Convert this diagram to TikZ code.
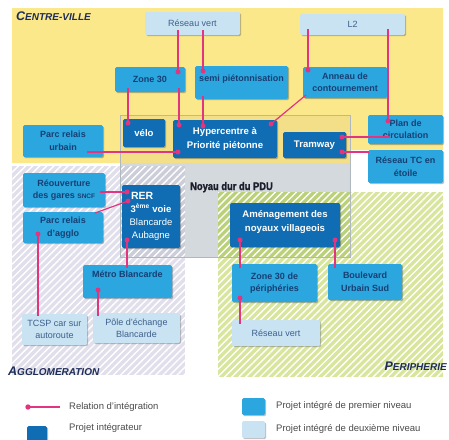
\documentclass[tikz,border=0pt]{standalone}
\usepackage{fontspec}
\setmainfont{Liberation Sans}
\newfontfamily\noyaufont[FakeStretch=0.85,FakeBold=1.5,UprightFont=* Bold]{Liberation Sans}
\usetikzlibrary{shadows,patterns.meta}
\definecolor{yel}{HTML}{FBE88A}
\definecolor{lav}{HTML}{E1DFEB}
\definecolor{grn}{HTML}{D8E59C}
\definecolor{nucY}{HTML}{F3DF88}
\definecolor{nucW}{HTML}{D3D9DD}
\definecolor{nucL}{HTML}{CBCED9}
\definecolor{nucG}{HTML}{BAD17A}
\definecolor{nucline}{HTML}{AEB8BE}
\definecolor{dkb}{HTML}{106DB3}
\definecolor{mdb}{HTML}{2CA6DF}
\definecolor{ltb}{HTML}{C9E3F2}
\definecolor{mdtxt}{HTML}{173F73}
\definecolor{lttxt}{HTML}{3D5F8C}
\definecolor{relc}{HTML}{E2357F}
\definecolor{navy}{HTML}{1E2D58}
\definecolor{noyauc}{HTML}{1C1E2C}
\definecolor{legtxtc}{HTML}{4A4A4A}
\begin{document}
\begin{tikzpicture}[x=1pt,y=-1pt,
  box/.style={rectangle, rounded corners=1.5pt, inner sep=1pt, align=center,
    drop shadow={shadow xshift=1.2pt, shadow yshift=-1.2pt, fill=black, opacity=0.25}},
  darkbox/.style={box, fill=dkb, text=white, font=\bfseries\fontsize{9.6}{14}\selectfont},
  medbox/.style={box, fill=mdb, text=mdtxt, font=\bfseries\fontsize{9}{12.5}\selectfont},
  lightbox/.style={box, fill=ltb, text=lttxt, font=\fontsize{9}{12}\selectfont},
  rel/.style={draw=relc, line width=1.2pt},
  reldot/.style={fill=relc},
  reglab/.style={inner sep=0, text=navy, font=\bfseries\itshape},
  legtxt/.style={inner sep=0, anchor=west, text=legtxtc, font=\fontsize{9.5}{11}\selectfont}
]
\useasboundingbox (0,0) rectangle (449,439);
\fill[white] (0,0) rectangle (449,439);

% ---------- regions ----------
\fill[yel] (12,8) -- (443,8) -- (443,150) -- (350,150) -- (350,163) -- (12,163) -- cycle;
\fill[lav] (12,166) rectangle (185,375);
\fill[grn] (218,192) rectangle (443,377);
% noyau dur
\fill[nucY] (120,115) rectangle (350,163);
\fill[nucW] (120,163) rectangle (350,257);
\fill[nucL] (120,166) rectangle (185,257);
\fill[nucG] (218,192) rectangle (350,257);
% hatching
\fill[pattern={Lines[angle=45,distance=5pt,line width=1.4pt]}, pattern color=white, fill opacity=0.45]
  (12,166) rectangle (185,375);
\fill[pattern={Lines[angle=45,distance=5pt,line width=1.4pt]}, pattern color=white, fill opacity=0.35]
  (218,192) rectangle (443,377);
\draw[nucline, line width=0.6pt] (120,115) rectangle (350,257);

% region labels
\node[reglab, anchor=base west] (cvlab) at (16,20)
  {\fontsize{12.5}{12}\selectfont C\fontsize{10}{12}\selectfont ENTRE-VILLE};
\node[reglab, anchor=base west] (agglab) at (8,375)
  {\fontsize{12.5}{12}\selectfont A\fontsize{10}{12}\selectfont GGLOMERATION};
\node[reglab, anchor=base east] (perlab) at (447,370)
  {\fontsize{12.5}{12}\selectfont P\fontsize{10}{12}\selectfont ERIPHERIE};
\node[anchor=base west, inner sep=0, text=noyauc, font=\noyaufont\fontsize{11}{12}\selectfont]
  (noyau) at (190,190) {Noyau dur du PDU};

% ---------- boxes: centre-ville ----------
\node[lightbox, minimum width=95pt, minimum height=23pt] (rv1) at (192.5,23.5) {Réseau vert};
\node[lightbox, minimum width=105pt, minimum height=21pt] (l2) at (352.5,24.5) {L2};
\node[medbox, minimum width=70pt, minimum height=25pt] (z30) at (150,79.5) {Zone 30};
\node[medbox, minimum width=93pt, minimum height=33pt, text depth=8pt] (semi) at (241.5,82.5) {semi piétonnisation};
\node[medbox, minimum width=84pt, minimum height=31pt] (ann) at (345,82.5) {Anneau de\\contournement};
\node[darkbox, minimum width=42pt, minimum height=28pt] (velo) at (144,133) {vélo};
\node[darkbox, minimum width=104pt, minimum height=38pt] (hyper) at (225,139) {Hypercentre à\\Priorité piétonne};
\node[medbox, minimum width=80pt, minimum height=32pt] (prurb) at (63,141) {Parc relais\\urbain};
\node[darkbox, minimum width=63pt, minimum height=26pt] (tram) at (314.5,145) {Tramway};
\node[medbox, minimum width=75pt, minimum height=29pt] (plan) at (405.5,129.5) {Plan de\\circulation};
\node[medbox, minimum width=75pt, minimum height=33pt] (rtc) at (405.5,166.5) {Réseau TC en\\étoile};

% ---------- boxes: agglomeration ----------
\node[medbox, minimum width=82pt, minimum height=34pt] (reouv) at (64,190)
  {Réouverture\\des gares {\fontsize{6.5}{6}\selectfont SNCF}};
\node[medbox, minimum width=80pt, minimum height=31pt] (pragg) at (63,227.5) {Parc relais\\d'agglo};
\node[darkbox, minimum width=58pt, minimum height=63pt, font=\bfseries\fontsize{9.5}{13}\selectfont] (rer) at (151,216.5)
  {\makebox[40pt][l]{\fontsize{10.5}{13}\selectfont RER}\\3\textsuperscript{ème} voie\\\mdseries Blancarde\\\mdseries Aubagne};
\node[medbox, minimum width=89pt, minimum height=33pt, text depth=14pt] (metro) at (127.5,281.5) {Métro Blancarde};
\node[lightbox, minimum width=65pt, minimum height=31pt] (tcsp) at (54.5,329.5) {TCSP car sur\\autoroute};
\node[lightbox, minimum width=87pt, minimum height=30pt] (pole) at (136.5,328) {Pôle d'échange\\Blancarde};

% ---------- boxes: périphérie ----------
\node[darkbox, minimum width=110pt, minimum height=44pt, text depth=9pt] (amen) at (285,225)
  {Aménagement des\\noyaux villageois};
\node[medbox, minimum width=85pt, minimum height=38pt] (z30p) at (274.5,283) {Zone 30 de\\périphéries};
\node[medbox, minimum width=74pt, minimum height=36pt] (bus) at (365,282) {Boulevard\\Urbain Sud};
\node[lightbox, minimum width=88pt, minimum height=26pt] (rv2) at (276,333) {Réseau vert};

% ---------- connector end points ----------
\coordinate (aS) at (178,30);  \coordinate (aD) at (178,72);
\coordinate (bS) at (179,88);  \coordinate (bD) at (179,125);
\coordinate (cS) at (203,30);  \coordinate (cD) at (203,71);
\coordinate (dS) at (203,96);  \coordinate (dD) at (203,126);
\coordinate (eS) at (128,88);  \coordinate (eD) at (128,123);
\coordinate (fS) at (308,29);  \coordinate (fD) at (308,70);
\coordinate (gS) at (388,29);  \coordinate (gD) at (388,121);
\coordinate (hS) at (306,95);  \coordinate (hD) at (271,124);
\coordinate (iS) at (87,152);  \coordinate (iD) at (178,152);
\coordinate (jS) at (390,137); \coordinate (jD) at (342,137);
\coordinate (kS) at (369,152); \coordinate (kD) at (342,152);
\coordinate (lS) at (100,192); \coordinate (lD) at (127,192);
\coordinate (mS) at (95,213);  \coordinate (mD) at (128,201);
\coordinate (nS) at (127,268); \coordinate (nD) at (127,240);
\coordinate (oS) at (38,316);  \coordinate (oD) at (38,234);
\coordinate (pS) at (98,316);  \coordinate (pD) at (98,290);
\coordinate (qS) at (240,268); \coordinate (qD) at (240,240);
\coordinate (rS) at (335,268); \coordinate (rD) at (335,240);
\coordinate (sS) at (240,324); \coordinate (sD) at (240,298);

\foreach \c in {a,b,c,d,e,f,g,h,i,j,k,l,m,n,o,p,q,r,s}{
  \draw[rel] (\c S) -- (\c D);
  \fill[reldot] (\c D) circle (2.5pt);
}

% ---------- legend ----------
\coordinate (lgD) at (28,407); \coordinate (lgE) at (60,407);
\draw[rel] (lgD) -- (lgE);
\fill[reldot] (lgD) circle (2.7pt);
\node[legtxt] (lg1) at (69,407) {Relation d'intégration};
\node[box, fill=dkb, minimum width=20pt, minimum height=15pt] (lgdk) at (37,433.5) {};
\node[legtxt] (lg2) at (69,428) {Projet intégrateur};
\node[box, fill=mdb, minimum width=23pt, minimum height=17pt] (lgmd) at (253.5,406.5) {};
\node[legtxt] (lg3) at (276,406) {Projet intégré de premier niveau};
\node[box, fill=ltb, minimum width=23pt, minimum height=17pt] (lglt) at (253.5,429.5) {};
\node[legtxt] (lg4) at (276,429) {Projet intégré de deuxième niveau};
\end{tikzpicture}
\end{document}
